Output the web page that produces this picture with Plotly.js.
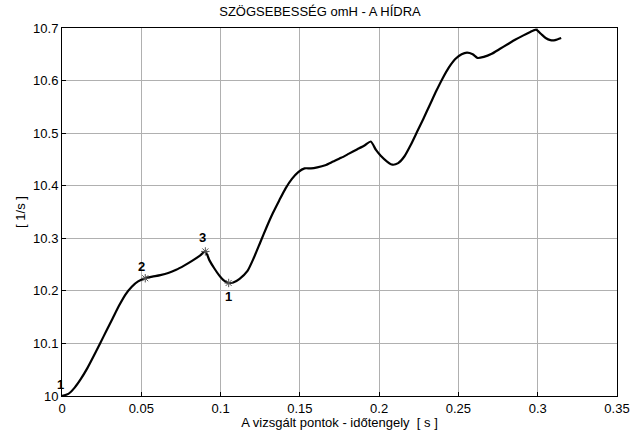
<!DOCTYPE html>
<html><head><meta charset="utf-8">
<script src="https://cdn.plot.ly/plotly-3.0.1.min.js"></script>
<style>html,body{margin:0;padding:0;background:#fff}#c{width:640px;height:430px}</style>
</head><body><div id="c"></div>
<script>
const t = [0, 0.004, 0.008, 0.012, 0.016, 0.020, 0.024, 0.028, 0.032, 0.036, 0.040, 0.044, 0.048, 0.0525,
  0.057, 0.062, 0.067, 0.072, 0.077, 0.082, 0.087, 0.0904, 0.093, 0.096, 0.099, 0.102, 0.1051, 0.108, 0.112,
  0.117, 0.121, 0.125, 0.129, 0.133, 0.137, 0.141, 0.145, 0.149, 0.153, 0.157, 0.161, 0.166, 0.171, 0.176,
  0.181, 0.186, 0.191, 0.1947, 0.198, 0.201, 0.205, 0.2084, 0.212, 0.216, 0.220, 0.224, 0.228, 0.232, 0.236,
  0.240, 0.244, 0.248, 0.252, 0.2554, 0.259, 0.2621, 0.266, 0.271, 0.276, 0.281, 0.286, 0.291, 0.295, 0.299,
  0.302, 0.305, 0.308, 0.311, 0.3148];
const omH = [10.000, 10.004, 10.016, 10.033, 10.053, 10.076, 10.100, 10.124, 10.148, 10.172, 10.193, 10.208, 10.218, 10.224,
  10.227, 10.230, 10.234, 10.240, 10.248, 10.257, 10.267, 10.275, 10.258, 10.243, 10.230, 10.220, 10.215, 10.216, 10.223,
  10.238, 10.263, 10.292, 10.321, 10.348, 10.372, 10.395, 10.413, 10.426, 10.433, 10.433, 10.435, 10.439, 10.446, 10.453,
  10.461, 10.469, 10.477, 10.484, 10.468, 10.457, 10.446, 10.440, 10.443, 10.456, 10.478, 10.503, 10.528, 10.554, 10.580,
  10.604, 10.625, 10.641, 10.650, 10.653, 10.650, 10.643, 10.645, 10.651, 10.660, 10.669, 10.678, 10.686, 10.692, 10.697,
  10.689, 10.681, 10.677, 10.677, 10.681];
const markT = [0, 0.0525, 0.0904, 0.1051];
const markV = [10.000, 10.224, 10.275, 10.215];
const markLabels = ["1", "2", "3", "1"];
const labelShift = [[-2, -12], [-4, -12], [-3, -14], [0, 14]];

const traces = [
  {x: t, y: omH, mode: 'lines', line: {color: '#000', width: 2.2, shape: 'spline', smoothing: 0.6}, hoverinfo: 'skip'},
  {x: markT.slice(1), y: markV.slice(1), mode: 'markers',
   marker: {symbol: 'asterisk-open', size: 7, color: '#555', line: {color: '#555', width: 1}}}
];
const ann = markT.map((x, i) => ({
  x: x, y: markV[i], text: '<b>' + markLabels[i] + '</b>', showarrow: false,
  xshift: labelShift[i][0], yshift: -labelShift[i][1],
  font: {family: 'Liberation Sans, Arial, sans-serif', size: 13, color: '#000'}
}));
const layout = {
  width: 640, height: 430,
  margin: {l: 62, r: 23, t: 28, b: 34},
  paper_bgcolor: '#fff', plot_bgcolor: '#fff',
  showlegend: false,
  font: {family: 'Liberation Sans, Arial, sans-serif', size: 13, color: '#000'},
  title: {text: 'SZÖGSEBESSÉG omH - A HÍDRA', x: 0.5, xanchor: 'center', y: 0.985, yanchor: 'top',
          font: {size: 13}},
  xaxis: {range: [0, 0.35], dtick: 0.05, tick0: 0, showgrid: true, gridcolor: '#b0b0b0', gridwidth: 1,
          showline: true, linecolor: '#000', linewidth: 1, mirror: true, zeroline: false,
          ticks: 'inside', ticklen: 4, tickcolor: '#000',
          title: {text: 'A vizsgált pontok - időtengely  [ s ]', standoff: 2, font: {size: 13}}},
  yaxis: {range: [10, 10.7], dtick: 0.1, tick0: 10, showgrid: true, gridcolor: '#b0b0b0', gridwidth: 1,
          showline: true, linecolor: '#000', linewidth: 1, mirror: true, zeroline: false,
          ticks: 'inside', ticklen: 4, tickcolor: '#000',
          title: {text: '[ 1/s ]', standoff: 4, font: {size: 13}}},
  annotations: ann
};
Plotly.newPlot('c', traces, layout, {displayModeBar: false, staticPlot: true});
</script></body></html>
